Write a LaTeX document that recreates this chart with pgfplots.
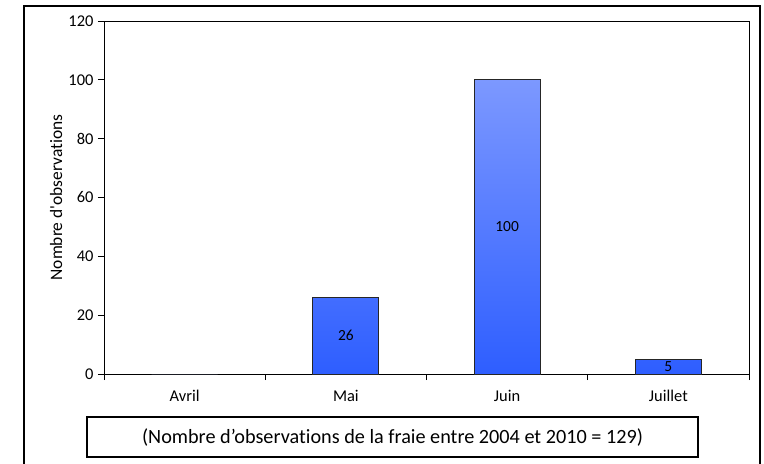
\documentclass[border=0pt]{standalone}
\usepackage{fontspec}
\setmainfont{Carlito}[Ligatures={NoCommon}]
\usepackage{pgfplots}
\pgfplotsset{compat=1.18}
\definecolor{bartop}{RGB}{124,152,255}
\definecolor{barbot}{RGB}{46,94,255}
\begin{document}
\begin{tikzpicture}
\useasboundingbox (0,0) rectangle (764bp,-464bp);
% outer chart frame
\draw[line width=1.2bp] (24bp,-470bp) -- (24bp,-6bp) -- (760bp,-6bp) -- (760bp,-470bp);
\begin{axis}[
    at={(104bp,-374bp)}, anchor=south west,
    scale only axis,
    width=645bp, height=353bp,
    ymin=0, ymax=120,
    ytick={0,20,...,120},
    xmin=-0.5, xmax=3.5,
    xtick={-0.5,0.5,...,3.5},
    xticklabels={},
    extra x ticks={0,1,2,3},
    extra x tick labels={Avril,Mai,Juin,Juillet},
    extra x tick style={major tick length=0pt, xticklabel style={yshift=-13bp}},
    tick pos=left,
    tick align=outside,
    major tick length=6bp,
    axis line style={line width=0.8bp},
    every tick/.style={black, line width=0.8bp},
    tick label style={font=\fontsize{16.5}{19}\selectfont},
    yticklabel style={xshift=-1bp},
    /pgf/number format/assume math mode=true,
    ylabel={Nombre d\textquotesingle observations},
    ylabel style={at={(axis description cs:-0.0744,0.5)}, anchor=center, font=\fontsize{17.5}{20}\selectfont},
]
\addplot[ybar, bar width=66bp, draw=black!85, line width=0.8bp,
         top color=bartop, bottom color=barbot]
  coordinates {(0,0) (1,26) (2,100) (3,5)};
\addplot[draw=none, mark=none, nodes near coords,
         point meta=explicit symbolic,
         nodes near coords align={center},
         every node near coord/.append style={font=\fontsize{15.5}{18}\selectfont, black}]
  coordinates {(1,13)[26] (2,50)[100] (3,2.5)[5]};
\end{axis}
\node[draw, line width=1.5bp, minimum width=611bp, minimum height=40bp, inner sep=0pt,
      font=\fontsize{20.3}{24}\selectfont] at (392.5bp,-437bp)
  {(Nombre d’observations de la fraie entre 2004 et 2010 = 129)};
\end{tikzpicture}
\end{document}
